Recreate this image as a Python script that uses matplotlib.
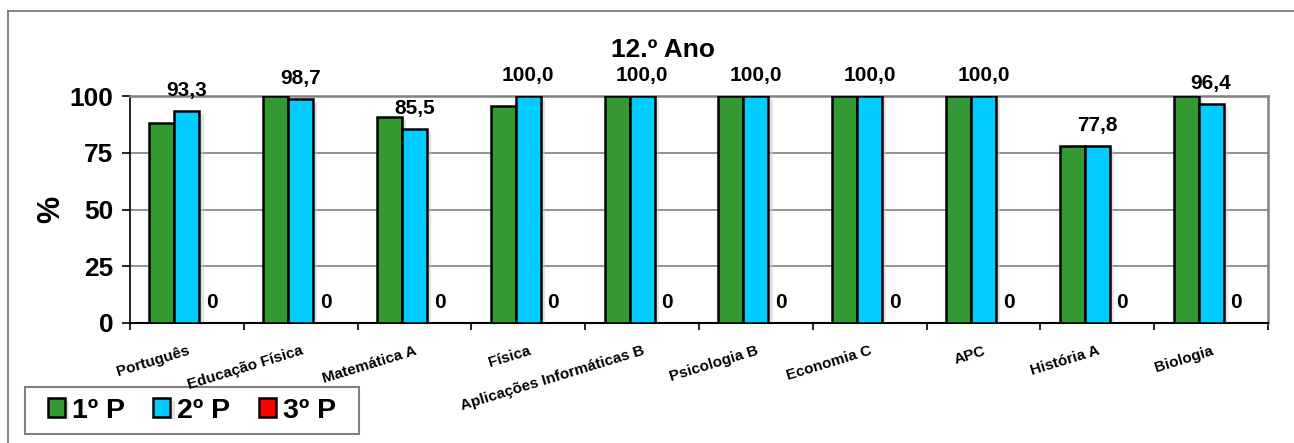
import numpy as np
import matplotlib
matplotlib.use("Agg")
import matplotlib.pyplot as plt
from matplotlib.lines import Line2D
from matplotlib.patches import Rectangle
import matplotlib.patheffects as pe

plt.rcParams['font.family'] = ['Liberation Sans', 'DejaVu Sans']
plt.rcParams['font.weight'] = 'bold'

subjects = ["Português", "Educação Física", "Matemática A", "Física",
            "Aplicações Informáticas B", "Psicologia B", "Economia C", "APC",
            "História A", "Biologia"]
p1 = [88.0, 100.0, 90.6, 95.8, 100.0, 100.0, 100.0, 100.0, 77.8, 100.0]
p2 = [93.3, 98.7, 85.5, 100.0, 100.0, 100.0, 100.0, 100.0, 77.8, 96.4]
p3 = [0, 0, 0, 0, 0, 0, 0, 0, 0, 0]
series_names = ["1º P", "2º P", "3º P"]
colors = ["#339933", "#00CCFF", "#FF0000"]

W, H = 1294, 443
fig = plt.figure(figsize=(W / 100, H / 100), dpi=100)
ax = fig.add_axes([130 / W, 1 - 323 / H, (1268 - 130) / W, (323 - 96) / H])

x = np.arange(len(subjects))
w = 0.22
shadow = [pe.SimplePatchShadow(offset=(3, -2), shadow_rgbFace='#c8c8c8', alpha=0.5),
          pe.Normal()]
bars = []
for k, (vals, c, name) in enumerate(zip([p1, p2, p3], colors, series_names)):
    b = ax.bar(x + (k - 1) * w, vals, w, color=c, edgecolor='black',
               linewidth=1.8, label=name, zorder=3)
    for r in b:
        if r.get_height() > 0:
            r.set_path_effects(shadow)
    bars.append(b)

# labels on 2º P and 3º P only
ax.bar_label(bars[1], labels=[f"{v:.1f}".replace('.', ',') for v in p2],
             padding=8, fontsize=15, fontweight='bold')
ax.bar_label(bars[2], labels=[f"{v:g}" for v in p3],
             padding=8, fontsize=15, fontweight='bold')

ax.set_xlim(-0.5, len(subjects) - 0.5)
ax.set_ylim(0, 100)
ax.set_yticks([0, 25, 50, 75, 100])
ax.tick_params(axis='y', labelsize=19, length=6, width=1.2, pad=6)
for t in ax.get_yticklabels():
    t.set_fontweight('bold')
ax.yaxis.grid(True, color='#808080', linewidth=1.2, zorder=0)

ax.set_xticks(x)
ax.set_xticklabels(subjects, rotation=17, ha='right', va='top',
                   rotation_mode='anchor', fontsize=11, fontweight='bold')
ax.tick_params(axis='x', which='major', length=0, pad=15)
ax.set_xticks(np.arange(-0.5, len(subjects)), minor=True)
ax.tick_params(axis='x', which='minor', length=5, width=1.2, direction='out')

for s in ['top', 'right']:
    ax.spines[s].set_color('#808080')
    ax.spines[s].set_linewidth(1.8)
ax.spines['left'].set_linewidth(1.2)
ax.spines['bottom'].set_linewidth(1.5)

ax.set_ylabel("%", fontsize=22, fontweight='bold', labelpad=2)

fig.text(663 / W, 1 - 50 / H, "12.º Ano", ha='center', va='center',
         fontsize=19, fontweight='bold')

# legend box
box = (25, 387, 359, 434)
fig.add_artist(Rectangle((box[0] / W, 1 - box[3] / H), (box[2] - box[0]) / W,
                         (box[3] - box[1]) / H, transform=fig.transFigure,
                         facecolor='white', edgecolor='#808080', linewidth=1.5,
                         zorder=-1))
leg = ax.legend(loc='center',
                bbox_to_anchor=((box[0] + box[2]) / 2 / W, 1 - (box[1] + box[3]) / 2 / H),
                bbox_transform=fig.transFigure, ncol=3,
                fontsize=20.5, frameon=False,
                handlelength=0.6, handleheight=0.6, handletextpad=0.25,
                columnspacing=1.0, borderpad=0, borderaxespad=0)
for t in leg.get_texts():
    t.set_fontweight('bold')

# outer chart frame (top and left edges visible)
fig.add_artist(Line2D([8 / W, 8 / W], [0, 1 - 11 / H], transform=fig.transFigure,
                      color='#707070', linewidth=1.2))
fig.add_artist(Line2D([8 / W, 1], [1 - 11 / H, 1 - 11 / H], transform=fig.transFigure,
                      color='#707070', linewidth=1.2))

fig.savefig("out.png", dpi=100)
